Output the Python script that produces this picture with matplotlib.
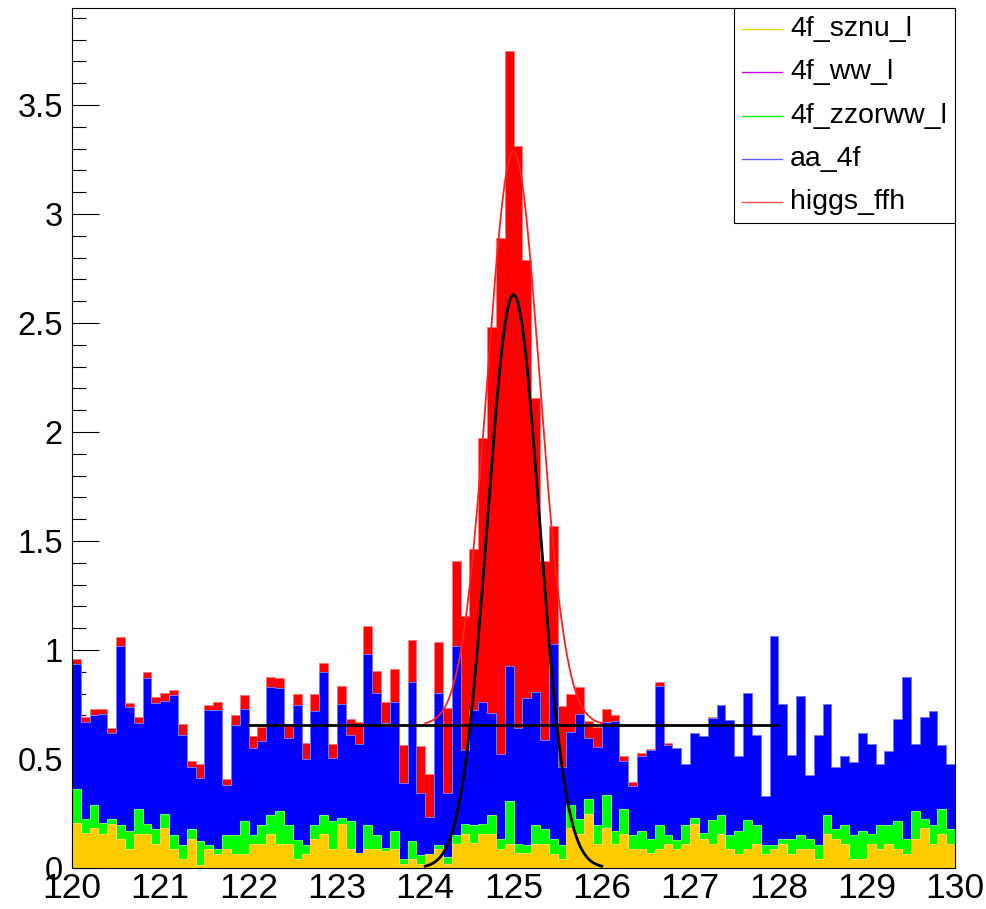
import numpy as np
import matplotlib
matplotlib.use("Agg")
import matplotlib.pyplot as plt
from matplotlib.ticker import MultipleLocator
from matplotlib.patches import Rectangle

# 100 bins, 120-130, bin contents per process (stack order bottom -> top)
edges = np.linspace(120.0, 130.0, 101)

sznu_l = [.205, .159, .182, .156, .202, .133, .086, .156, .156, .110,
          .182, .086, .040, .131, .014, .086, .064, .086, .064, .064,
          .110, .110, .156, .110, .110, .040, .064, .131, .156, .086,
          .202, .086, .067, .086, .086, .080, .086, .018, .040, .018,
          .064, .086, .018, .110, .156, .113, .156, .156, .086, .110,
          .067, .067, .110, .110, .064, .040, .182, .156, .248, .110,
          .182, .110, .156, .086, .086, .067, .086, .110, .086, .110,
          .202, .131, .110, .156, .086, .064, .086, .110, .064, .086,
          .110, .064, .086, .086, .040, .156, .131, .110, .040, .040,
          .110, .086, .110, .086, .064, .131, .182, .110, .156, .110]

ww_l = [0.0] * 100

zzorww_l = [.156, .064, .107, .051, .021, .064, .085, .113, .046, .067,
            .066, .065, .065, .046, .111, .019, .022, .065, .087, .153,
            .041, .087, .087, .153, .087, .088, .041, .066, .087, .131,
            .026, .131, .000, .111, .065, .010, .085, .022, .085, .042,
            .000, .019, .032, .041, .046, .084, .046, .087, .045, .199,
            .043, .038, .087, .067, .067, .065, .107, .067, .067, .087,
            .153, .061, .113, .065, .085, .064, .111, .041, .042, .087,
            .026, .028, .110, .087, .065, .107, .134, .087, .041, .019,
            .021, .067, .065, .045, .065, .087, .046, .087, .111, .131,
            .046, .111, .087, .131, .067, .132, .041, .087, .113, .067]

aa_4f = [.575, .448, .413, .499, .395, .821, .566, .395, .668, .578,
         .520, .643, .505, .288, .289, .620, .639, .230, .505, .511,
         .398, .387, .586, .561, .398, .620, .394, .525, .657, .286,
         .524, .393, .502, .785, .653, .574, .592, .351, .730, .283,
         .171, .699, .293, .869, .339, .528, .561, .470, .394, .618,
         .530, .673, .612, .410, .897, .360, .336, .483, .280, .360,
         .336, .505, .223, .227, .343, .409, .638, .413, .421, .280,
         .390, .447, .470, .505, .528, .343, .584, .413, .225, .959,
         .621, .387, .638, .296, .505, .508, .288, .317, .337, .447,
         .413, .280, .341, .465, .747, .306, .468, .525, .295, .300]

higgs_ffh = [.021, .023, .026, .022, .023, .040, .021, .027, .030, .028,
             .033, .022, .051, .027, .063, .022, .037, .026, .046, .066,
             .057, .061, .049, .046, .061, .050, .076, .076, .042, .066,
             .083, .072, .101, .128, .101, .099, .152, .173, .191, .217,
             .196, .234, .389, .387, .617, .740, 1.211, 1.770, 2.366, 2.823,
             2.672, 2.009, 1.345, .820, .539, .278, .173, .126, .081, .088,
             .057, .026, .022, .018, .015, .006, .020, .008, .003, .000,
             .003, .000, .003, .000, .000, .000, .000, .000, .000, .000,
             .000, .000, .000, .000, .000, .000, .000, .000, .000, .000,
             .000, .000, .000, .000, .000, .000, .000, .000, .000, .000]

# fit results
fit_amp, fit_mean, fit_sigma = 2.63, 125.0, 0.295
fit_bkg = 0.656
fit_range = (124.0, 126.0)
bkg_range = (122.0, 128.0)

names = ["4f_sznu_l", "4f_ww_l", "4f_zzorww_l", "aa_4f", "higgs_ffh"]
fills = ["#ffcc00", "#cc00ff", "#00ff00", "#0000ff", "#ff0000"]
lines = ["#ffcc00", "#cc00ff", "#00ff00", "#6666ff", "#ff5555"]
edgec = ["#ffdd55", "#dd66ff", "#66ff66", "#7777ff", "#ff7777"]

plt.rcParams["font.family"] = ["Liberation Sans", "DejaVu Sans"]

fig = plt.figure(figsize=(9.87, 9.09), dpi=100)
ax = fig.add_axes([72 / 987, 41 / 909, 883 / 987, 860 / 909])

procs = [sznu_l, ww_l, zzorww_l, aa_4f, higgs_ffh]
stack = np.cumsum(np.array(procs), axis=0)
for k in range(4, -1, -1):
    if not np.any(procs[k]):
        continue
    ax.stairs(stack[k], edges, fill=True, facecolor=fills[k],
              edgecolor=edgec[k], linewidth=0.7, zorder=2)

xg = np.linspace(fit_range[0], fit_range[1], 300)
gaus = fit_amp * np.exp(-0.5 * ((xg - fit_mean) / fit_sigma) ** 2)
ax.plot(xg, gaus + fit_bkg, color="#ff2020", lw=1.3, zorder=3)
ax.plot(list(bkg_range), [fit_bkg, fit_bkg], color="black", lw=2.0, zorder=4)
ax.plot(xg, gaus, color="black", lw=2.0, zorder=4)

ax.set_xlim(120, 130)
ax.set_ylim(0, 3.945)
ax.xaxis.set_major_locator(MultipleLocator(1))
ax.xaxis.set_minor_locator(MultipleLocator(0.2))
ax.yaxis.set_minor_locator(MultipleLocator(0.1))
ax.tick_params(axis="x", which="major", direction="in", length=18, width=0.8,
               labelsize=25.5, pad=3, top=False)
ax.tick_params(axis="x", which="minor", direction="in", length=8.6, width=0.8, top=False)
ax.tick_params(axis="y", which="major", direction="in", length=19.4, width=0.8,
               labelsize=23.5, pad=6.5, right=False)
ax.tick_params(axis="y", which="minor", direction="in", length=10, width=0.8, right=False)
ax.set_yticks(np.arange(0, 3.51, 0.5))
ax.set_yticklabels(["0", "0.5", "1", "1.5", "2", "2.5", "3", "3.5"])
for sp in ax.spines.values():
    sp.set_linewidth(0.8)
    sp.set_zorder(5)

# legend box (ROOT TLegend style)
ax.add_patch(Rectangle((0.7497, 0.75), 0.2503, 0.25, transform=ax.transAxes,
                       facecolor="white", edgecolor="black", lw=0.8, zorder=6))
ys = [0.9756, 0.9252, 0.8748, 0.8244, 0.7748]
for name, c, y in zip(names, lines, ys):
    ax.plot([0.7584, 0.8037], [y, y], color=c, lw=1.0, transform=ax.transAxes, zorder=7)
    ax.text(0.8131, y, name, transform=ax.transAxes, fontsize=20.5,
            va="center", ha="left", zorder=7)

fig.savefig("out.png", dpi=100)
